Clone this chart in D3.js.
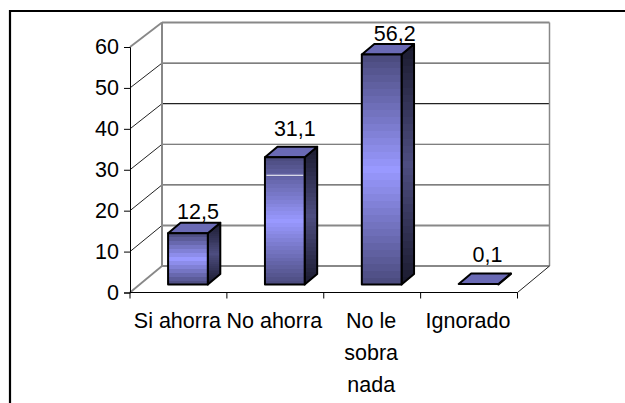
<!DOCTYPE html>
<html>
<head>
<meta charset="utf-8">
<script src="https://cdn.jsdelivr.net/npm/d3@7"></script>
<style>
  html, body { margin: 0; padding: 0; background: #fff; }
  svg { display: block; }
  text { font-family: "Liberation Sans", Arial, sans-serif; font-size: 21.5px; fill: #000; }
</style>
</head>
<body>
<div id="chart"></div>
<script>
// chart data
const categories = ["Si ahorra", "No ahorra", "No le sobra nada", "Ignorado"];
const values = [12.5, 31.1, 56.2, 0.1];
const valueLabels = ["12,5", "31,1", "56,2", "0,1"];
const yTicks = [0, 10, 20, 30, 40, 50, 60];
// wrapped lines of the category labels
const categoryLines = [["Si ahorra"], ["No ahorra"], ["No le", "sobra", "nada"], ["Ignorado"]];

const width = 625, height = 403;

const svg = d3.select("#chart")
    .append("svg")
    .attr("width", width)
    .attr("height", height)
    .attr("viewBox", [0, 0, width, height]);

// front plane of the 3d box
const x = d3.scaleBand()
    .domain(categories)
    .range([130, 517.5])
    .paddingInner(0.59)
    .paddingOuter(0.295);

const y = d3.scaleLinear()
    .domain([0, 60])
    .range([292.5, 47]);

// back wall has its own scale, the perspective is not quite even
const yBack = d3.scaleLinear()
    .domain([0, 60])
    .range([266, 22.5]);
const wallDx = 32;

// bars stand a bit inside the floor
const barShift = { dx: 9.5, dy: -8 };
const barDepth = { dx: 12.5, dy: -10.5 };
// the value labels do not sit evenly over the bars
const labelNudge = [{ dx: 10, lift: 4 }, { dx: 10, lift: 11 }, { dx: 13, lift: 3.5 }, { dx: 9, lift: 12 }];

// outer frame, only top and left show
svg.append("path")
    .attr("d", "M10,403V11H625")
    .attr("fill", "none")
    .attr("stroke", "#000")
    .attr("stroke-width", 2.2);

// stepped gradients for the bars, banding is only visible on the short bar
const defs = svg.append("defs");
function gradient(id, dark, light, bands) {
    const color = d3.scaleLinear().domain([0, 0.5, 1]).range([dark, light, dark]);
    const stops = d3.range(bands).flatMap(i => [
        [i / bands, color((i + 0.5) / bands)],
        [(i + 1) / bands, color((i + 0.5) / bands)]
    ]);
    defs.append("linearGradient")
        .attr("id", id)
        .attr("x1", 0).attr("y1", 0).attr("x2", 0).attr("y2", 1)
        .selectAll("stop")
        .data(stops)
        .join("stop")
        .attr("offset", d => d[0])
        .attr("stop-color", d => d[1]);
}
gradient("front", "#4a4a7c", "#9999ff", 33);
gradient("frontShort", "#4a4a7c", "#9999ff", 13);
gradient("side", "#1a1a2e", "#4d4d80", 33);

// gridlines on the back wall and left wall
const grid = svg.append("g").attr("fill", "none");
const gridColor = d => (d === 0 || d === 60 || d === 10) ? "#888" : (d === 40 ? "#222" : "#555");
const gridWidth = d => (d === 0 || d === 60 || d === 10) ? 2 : 1.2;

grid.selectAll(".back")
    .data(yTicks)
    .join("line")
    .attr("x1", x.range()[0] + wallDx)
    .attr("x2", x.range()[1] + wallDx)
    .attr("y1", d => yBack(d))
    .attr("y2", d => yBack(d))
    .attr("stroke", gridColor)
    .attr("stroke-width", gridWidth);

grid.selectAll(".diag")
    .data(yTicks)
    .join("line")
    .attr("x1", x.range()[0])
    .attr("x2", x.range()[0] + wallDx)
    .attr("y1", d => y(d))
    .attr("y2", d => yBack(d))
    .attr("stroke", d => (d === 0 || d === 60) ? "#888" : "#222")
    .attr("stroke-width", d => (d === 0 || d === 60) ? 1.8 : 1);

// wall edges
grid.append("line")
    .attr("x1", x.range()[0] + wallDx).attr("x2", x.range()[0] + wallDx)
    .attr("y1", yBack(0)).attr("y2", yBack(60))
    .attr("stroke", "#888").attr("stroke-width", 2);
grid.append("line")
    .attr("x1", x.range()[1] + wallDx).attr("x2", x.range()[1] + wallDx)
    .attr("y1", yBack(0)).attr("y2", yBack(60))
    .attr("stroke", "#888").attr("stroke-width", 1.5);
// right edge of the floor
grid.append("line")
    .attr("x1", x.range()[1]).attr("x2", x.range()[1] + wallDx)
    .attr("y1", y(0)).attr("y2", yBack(0))
    .attr("stroke", "#222").attr("stroke-width", 1);

// y axis
const yAxis = svg.append("g")
    .attr("transform", `translate(${x.range()[0]},0)`)
    .call(d3.axisLeft(y).tickValues(yTicks).tickSize(6).tickPadding(5));
yAxis.select(".domain").attr("stroke", "#000");
yAxis.selectAll("text").style("font-size", "21.5px").style("font-family", "Liberation Sans");

// x axis, ticks sit between the categories
const step = x.step();
const xAxis = svg.append("g");
xAxis.append("line")
    .attr("x1", x.range()[0]).attr("x2", x.range()[1])
    .attr("y1", y(0)).attr("y2", y(0))
    .attr("stroke", "#000");
xAxis.selectAll(".tick")
    .data(d3.range(categories.length + 1))
    .join("line")
    .attr("x1", i => x.range()[0] + i * step)
    .attr("x2", i => x.range()[0] + i * step)
    .attr("y1", y(0))
    .attr("y2", y(0) + 6)
    .attr("stroke", "#000");

// category labels
xAxis.selectAll(".cat")
    .data(categories)
    .join("text")
    .attr("text-anchor", "middle")
    .attr("y", y(0) + 35)
    .each(function (d, i) {
        d3.select(this).selectAll("tspan")
            .data(categoryLines[i])
            .join("tspan")
            .attr("x", x(d) + x.bandwidth() / 2 - 1)
            .attr("dy", (l, j) => j ? 32 : 0)
            .text(l => l);
    });

// bars
const bar = svg.selectAll(".bar")
    .data(categories.map((c, i) => ({ c, v: values[i] })))
    .join("g")
    .attr("class", "bar")
    .attr("transform", `translate(${barShift.dx},${barShift.dy})`)
    .attr("stroke", "#000")
    .attr("stroke-width", 2)
    .attr("stroke-linejoin", "round");

// right side face
bar.append("path")
    .attr("fill", "url(#side)")
    .attr("d", d => {
        const r = x(d.c) + x.bandwidth();
        return `M${r},${y(d.v)}l${barDepth.dx},${barDepth.dy}V${y(0) + barDepth.dy}l${-barDepth.dx},${-barDepth.dy}Z`;
    });

// top face
bar.append("path")
    .attr("fill", "#6a6ab5")
    .attr("d", d => `M${x(d.c)},${y(d.v)}l${barDepth.dx},${barDepth.dy}h${x.bandwidth()}l${-barDepth.dx},${-barDepth.dy}Z`);

// front face
bar.filter(d => y(0) - y(d.v) > 2)
    .append("rect")
    .attr("fill", d => d.v < 20 ? "url(#frontShort)" : "url(#front)")
    .attr("x", d => x(d.c))
    .attr("y", d => y(d.v))
    .attr("width", x.bandwidth())
    .attr("height", d => y(0) - y(d.v));

// thin white streak across the second bar, it is in the original image
svg.append("line")
    .attr("x1", x(categories[1]) + barShift.dx + 1.5)
    .attr("x2", x(categories[1]) + x.bandwidth() + barShift.dx - 1.5)
    .attr("y1", y(26.7) + barShift.dy)
    .attr("y2", y(26.7) + barShift.dy)
    .attr("stroke", "#fff")
    .attr("stroke-width", 1);

// value labels
svg.selectAll(".value")
    .data(categories)
    .join("text")
    .attr("class", "value")
    .attr("text-anchor", "middle")
    .attr("x", (d, i) => x(d) + x.bandwidth() / 2 + barShift.dx + labelNudge[i].dx)
    .attr("y", (d, i) => y(values[i]) + barShift.dy + barDepth.dy - labelNudge[i].lift)
    .text((d, i) => valueLabels[i]);
</script>
</body>
</html>
